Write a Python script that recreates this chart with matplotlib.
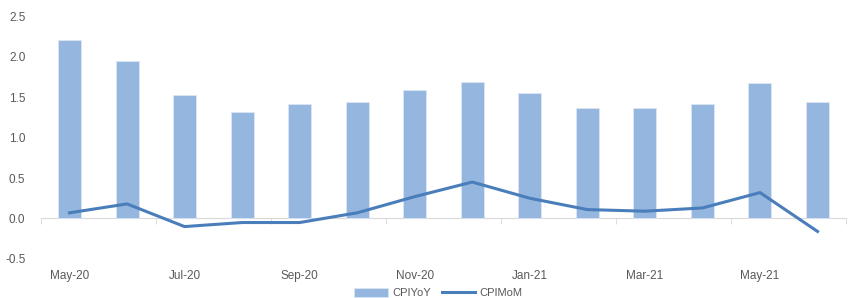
import matplotlib
matplotlib.use("Agg")
import matplotlib.pyplot as plt
from matplotlib.ticker import FixedLocator, NullFormatter
import numpy as np

months = ["May-20", "Jun-20", "Jul-20", "Aug-20", "Sep-20", "Oct-20", "Nov-20",
          "Dec-20", "Jan-21", "Feb-21", "Mar-21", "Apr-21", "May-21", "Jun-21"]
cpi_yoy = [2.20, 1.95, 1.53, 1.32, 1.42, 1.44, 1.59, 1.68, 1.55, 1.37, 1.36, 1.42, 1.67, 1.44]
cpi_mom = [0.07, 0.18, -0.10, -0.05, -0.05, 0.07, 0.27, 0.45, 0.25, 0.11, 0.09, 0.13, 0.32, -0.16]
yticks = [-0.5, 0.0, 0.5, 1.0, 1.5, 2.0, 2.5]

plt.rcParams['font.family'] = ['Liberation Sans', 'DejaVu Sans']
txt = '#595959'

fig = plt.figure(figsize=(8.48, 2.98), dpi=100)
ax = fig.add_axes([0.048, 0.131, 0.950, 0.815])

x = np.arange(len(months))
bars = ax.bar(x, cpi_yoy, width=0.4, color='#95B6DE', edgecolor='#DCE6F2', linewidth=0.6,
              label='CPIYoY', zorder=2)
line, = ax.plot(x, cpi_mom, color='#4A7EBB', lw=2.2, label='CPIMoM', zorder=3)

ax.set_xlim(-0.5, len(months) - 0.5)
ax.set_ylim(-0.5, 2.5)
ax.set_yticks(yticks)
ax.set_yticklabels([f"{v:.1f}" for v in yticks], color=txt, fontsize=8.5)
ax.tick_params(axis='y', length=0, pad=11)

for s in ['top', 'right', 'left']:
    ax.spines[s].set_visible(False)
ax.spines['bottom'].set_position(('data', 0))
ax.spines['bottom'].set_color('#D9D9D9')
ax.spines['bottom'].set_zorder(1)

ax.set_xticks(x[::2])
ax.set_xticklabels(months[::2], color=txt, fontsize=8.5)
ax.tick_params(axis='x', which='major', length=0, pad=37)
ax.xaxis.set_minor_locator(FixedLocator(list(np.arange(-0.5, len(months), 2))))
ax.xaxis.set_minor_formatter(NullFormatter())
ax.tick_params(axis='x', which='minor', length=4, color='#D9D9D9', direction='out')

fig.legend([bars, line], ['CPIYoY', 'CPIMoM'], loc='lower center',
           bbox_to_anchor=(0.517, -0.035), ncol=2, frameon=False,
           fontsize=8, labelcolor=txt, handlelength=3.0, handleheight=0.9,
           columnspacing=1.0, handletextpad=0.4)

fig.savefig('out.png', dpi=100)
